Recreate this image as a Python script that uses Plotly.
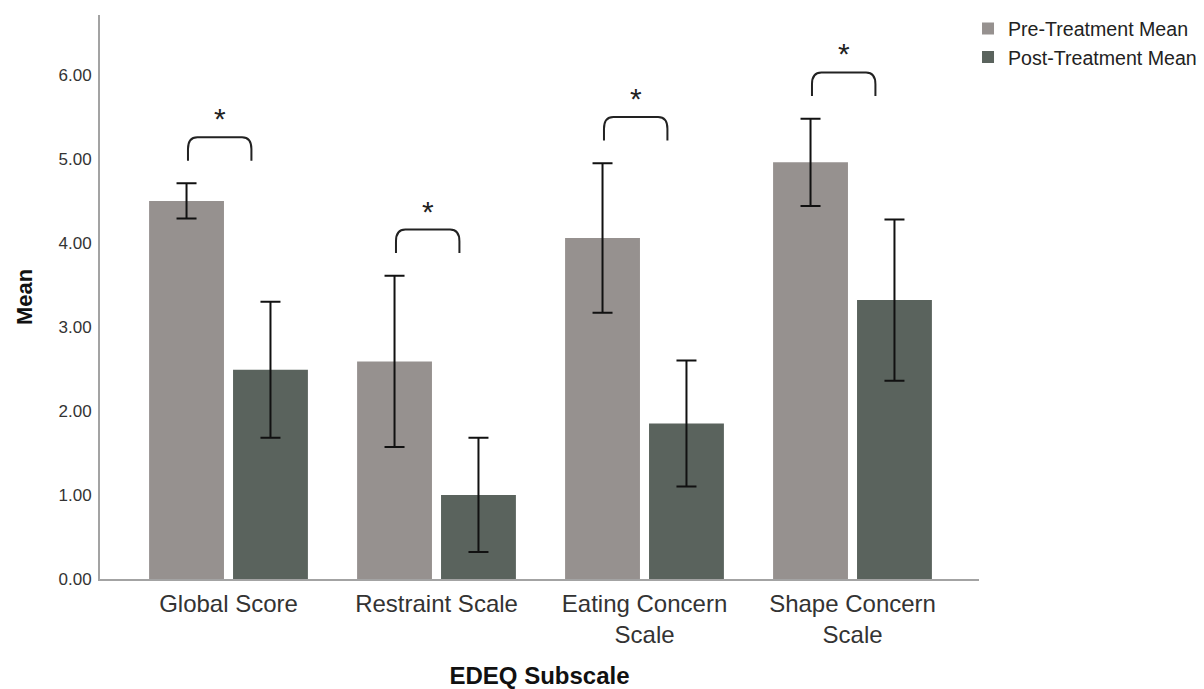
import plotly.graph_objects as go
import numpy as np

categories = ["Global Score", "Restraint Scale", "Eating Concern Scale", "Shape Concern Scale"]
tick_labels = ["Global Score", "Restraint Scale", "Eating Concern<br>Scale", "Shape Concern<br>Scale"]
pre_mean = [4.50, 2.59, 4.06, 4.96]
pre_err = [0.21, 1.02, 0.89, 0.52]
post_mean = [2.49, 1.00, 1.85, 3.32]
post_err = [0.81, 0.68, 0.75, 0.96]
significant = [True, True, True, True]
series_names = ["Pre-Treatment Mean", "Post-Treatment Mean"]
y_ticks = [0, 1, 2, 3, 4, 5, 6]

PRE_COLOR = "#96918f"
POST_COLOR = "#5a635d"
FONT = "Liberation Sans, Arial, sans-serif"

x = np.arange(len(categories))
bar_w = 0.36

fig = go.Figure()
fig.add_trace(go.Bar(
    x=x, y=pre_mean, name=series_names[0], width=bar_w, offset=-0.382,
    marker=dict(color=PRE_COLOR, line=dict(width=0)),
    error_y=dict(type="data", array=pre_err, visible=True, color="#111111", thickness=2, width=10),
))
fig.add_trace(go.Bar(
    x=x, y=post_mean, name=series_names[1], width=bar_w, offset=0.0216,
    marker=dict(color=POST_COLOR, line=dict(width=0)),
    error_y=dict(type="data", array=post_err, visible=True, color="#111111", thickness=2, width=10),
))

# significance brackets
gap = 0.27
h = 0.28
rx, ry = 0.045, 0.14
for i, sig in enumerate(significant):
    if not sig:
        continue
    yb = pre_mean[i] + pre_err[i] + gap
    yt = yb + h
    x0 = i - 0.195
    x1 = i + 0.11
    path = (f"M {x0},{yb} L {x0},{yt-ry} Q {x0},{yt} {x0+rx},{yt} "
            f"L {x1-rx},{yt} Q {x1},{yt} {x1},{yt-ry} L {x1},{yb}")
    fig.add_shape(type="path", path=path, xref="x", yref="y",
                  line=dict(color="#222222", width=2))
    fig.add_annotation(x=(x0 + x1) / 2, y=yt, text="*", showarrow=False,
                       xref="x", yref="y", yanchor="bottom", yshift=0,
                       font=dict(family=FONT, size=30, color="#222222"))

fig.update_layout(
    width=1196, height=681,
    margin=dict(l=92, r=225, t=7, b=110, autoexpand=False),
    paper_bgcolor="white", plot_bgcolor="white",
    barmode="overlay",
    showlegend=True,
    legend=dict(x=0.9875, y=1.01, xanchor="left", yanchor="top",
                font=dict(family=FONT, size=19.6, color="#222222"),
                tracegroupgap=0, itemsizing="constant",
                bgcolor="rgba(0,0,0,0)"),
    font=dict(family=FONT, color="#222222"),
)
fig.update_xaxes(
    range=[-0.618, 3.608], tickmode="array", tickvals=x, ticktext=tick_labels,
    showgrid=False, zeroline=False, showline=True, linecolor="#a3a3a3", linewidth=2,
    ticks="", tickfont=dict(family=FONT, size=24, color="#333333"),
    ticklabelstandoff=2, automargin=False,
    title=dict(text="<b>EDEQ Subscale</b>", font=dict(family=FONT, size=24, color="#111111"), standoff=23),
)
fig.update_yaxes(
    range=[0, 6.714], tickmode="array", tickvals=y_ticks,
    ticktext=[f"{v:.2f}" for v in y_ticks],
    showgrid=False, zeroline=False, showline=True, linecolor="#a3a3a3", linewidth=2,
    ticks="", tickfont=dict(family=FONT, size=17, color="#333333"),
    ticklabelstandoff=3, automargin=False,
    title=dict(text="<b>Mean</b>", font=dict(family=FONT, size=22, color="#111111"), standoff=20),
)

fig.write_html("out.html")
